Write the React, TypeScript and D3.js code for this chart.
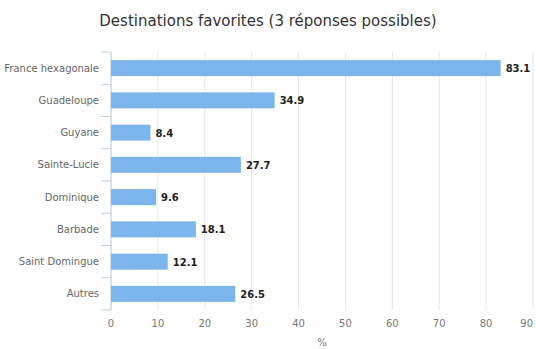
import React from "react";
import * as d3 from "d3";

const categories = [
  "France hexagonale",
  "Guadeloupe",
  "Guyane",
  "Sainte-Lucie",
  "Dominique",
  "Barbade",
  "Saint Domingue",
  "Autres",
];
const values = [83.1, 34.9, 8.4, 27.7, 9.6, 18.1, 12.1, 26.5];
const xTicks = [0, 10, 20, 30, 40, 50, 60, 70, 80, 90];
const title = "Destinations favorites (3 réponses possibles)";
const xTitle = "%";

const W = 536;
const H = 349;
const left = 111;
const right = 533;
const top = 52;
const bottom = 310;
const font = "'DejaVu Sans', Verdana, sans-serif";

export default function App() {
  const x = d3.scaleLinear().domain([0, 90]).range([left, right]);
  const y = d3.scaleBand().domain(categories).range([top, bottom]);
  const bh = 16;
  return (
    <svg
      width={W}
      height={H}
      style={{ position: "absolute", left: 0, top: 0, background: "#fff" }}
    >
      <text
        x={W / 2}
        y={26}
        textAnchor="middle"
        fontFamily={font}
        fontSize={15}
        fill="#333"
      >
        {title}
      </text>
      {xTicks.map((t) => (
        <line
          key={t}
          x1={x(t)}
          x2={x(t)}
          y1={top}
          y2={bottom}
          stroke="#e6e6e6"
          strokeWidth={1}
        />
      ))}
      <line x1={left} x2={left} y1={top} y2={bottom} stroke="#c0d0e0" />
      {d3.range(categories.length + 1).map((i) => {
        const yy = top + i * y.step();
        return (
          <line
            key={i}
            x1={left - 10}
            x2={left}
            y1={yy}
            y2={yy}
            stroke="#c0d0e0"
          />
        );
      })}
      {categories.map((c, i) => {
        const cy = (y(c) as number) + y.bandwidth() / 2;
        return (
          <g key={c}>
            <text
              x={left - 12}
              y={cy + 3.5}
              textAnchor="end"
              fontFamily={font}
              fontSize={10}
              fill="#666"
            >
              {c}
            </text>
            <rect
              x={x(0)}
              y={cy - bh / 2}
              width={x(values[i]) - x(0)}
              height={bh}
              fill="#7cb5ec"
            />
            <text
              x={x(values[i]) + 5}
              y={cy + 4}
              fontFamily={font}
              fontSize={10}
              fontWeight="bold"
              fill="#222"
            >
              {values[i]}
            </text>
          </g>
        );
      })}
      {xTicks.map((t, i) => {
        const last = i === xTicks.length - 1;
        return (
          <text
            key={t}
            x={last ? W - 3 : x(t)}
            y={327}
            textAnchor={last ? "end" : "middle"}
            fontFamily={font}
            fontSize={10}
            fill="#777"
          >
            {t}
          </text>
        );
      })}
      <text
        x={(left + right) / 2}
        y={346}
        textAnchor="middle"
        fontFamily={font}
        fontSize={10}
        fill="#777"
      >
        {xTitle}
      </text>
    </svg>
  );
}
